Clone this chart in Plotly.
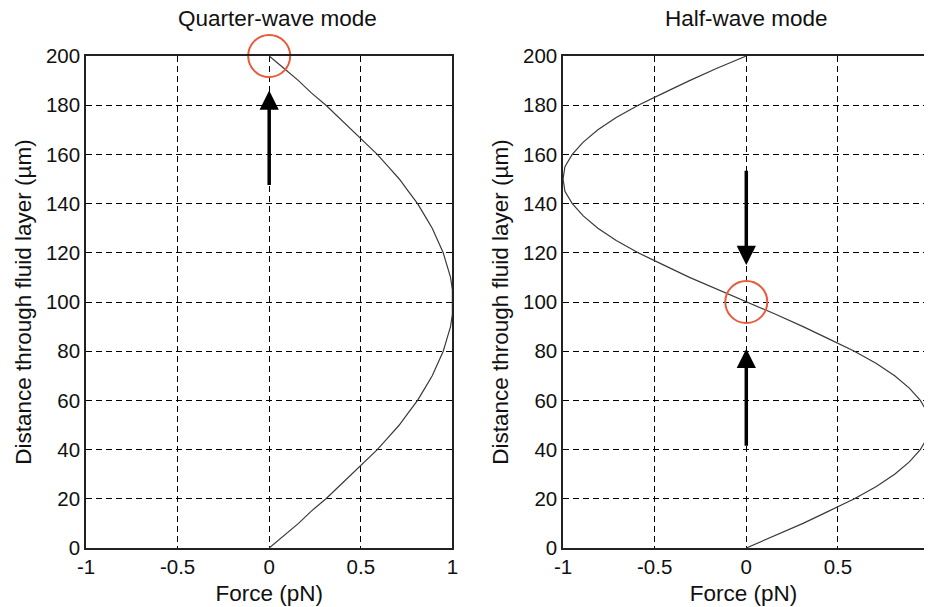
import plotly.graph_objects as go

# ---- data ----
distance_um = [0, 5, 10, 15, 20, 25, 30, 35, 40, 45, 50, 55, 60, 65, 70, 75, 80, 85, 90, 95, 100,
               105, 110, 115, 120, 125, 130, 135, 140, 145, 150, 155, 160, 165, 170, 175, 180,
               185, 190, 195, 200]
quarter_force = [0, 0.08, 0.16, 0.23, 0.31, 0.38, 0.45, 0.52, 0.59, 0.65, 0.71, 0.76, 0.81, 0.85,
                 0.89, 0.92, 0.95, 0.97, 0.99, 1.00, 1.00,
                 1.00, 0.99, 0.97, 0.95, 0.92, 0.89, 0.85, 0.81, 0.76, 0.71, 0.65, 0.59, 0.52,
                 0.45, 0.38, 0.31, 0.23, 0.16, 0.08, 0]
half_force = [0, 0.16, 0.31, 0.45, 0.59, 0.71, 0.81, 0.89, 0.95, 0.99, 1.00, 0.99, 0.95, 0.89,
              0.81, 0.71, 0.59, 0.45, 0.31, 0.16, 0,
              -0.16, -0.31, -0.45, -0.59, -0.71, -0.81, -0.89, -0.95, -0.99, -1.00, -0.99,
              -0.95, -0.89, -0.81, -0.71, -0.59, -0.45, -0.31, -0.16, 0]

titles = ["Quarter-wave mode", "Half-wave mode"]
x_title = "Force (pN)"
y_title = "Distance through fluid layer (\u00b5m)"
x_ticks = [-1, -0.5, 0, 0.5, 1]
x_tick_text = ["-1", "-0.5", "0", "0.5", "1"]
y_ticks = [0, 20, 40, 60, 80, 100, 120, 140, 160, 180, 200]

# equilibrium (node) positions marked by circles: (force, distance)
quarter_node = (0, 200)
half_node = (0, 100)
# arrows: (x, tail_y, tip_y)
quarter_arrows = [(0, 147, 186)]
half_arrows = [(0, 154, 115), (0, 41, 81)]

FONT = "Liberation Sans, Arial, Helvetica, sans-serif"
W, H = 930, 607
ML, MT, MB = 86, 56, 59
pw = W - ML

fig = go.Figure()

line_style = dict(color="#3a3a3a", width=1.2)
fig.add_trace(go.Scatter(x=quarter_force, y=distance_um, mode="lines", line=line_style,
                         xaxis="x", yaxis="y", showlegend=False))
fig.add_trace(go.Scatter(x=half_force, y=distance_um, mode="lines", line=line_style,
                         xaxis="x2", yaxis="y2", showlegend=False))

circle_marker = dict(symbol="circle-open", size=42, color="#e85a3a", line=dict(width=2, color="#e85a3a"))
fig.add_trace(go.Scatter(x=[quarter_node[0]], y=[quarter_node[1]], mode="markers",
                         marker=circle_marker, cliponaxis=False, xaxis="x", yaxis="y",
                         showlegend=False))
fig.add_trace(go.Scatter(x=[half_node[0]], y=[half_node[1]], mode="markers",
                         marker=circle_marker, cliponaxis=False, xaxis="x2", yaxis="y2",
                         showlegend=False))

axis_common = dict(
    showline=True, linecolor="#222222", linewidth=1.5,
    showgrid=True, gridcolor="#000000", gridwidth=1, griddash="6px,4px",
    zeroline=False, ticks="", tickfont=dict(family=FONT, size=20.5, color="#111111"),
    title_font=dict(family=FONT, size=22.5, color="#111111"),
)

fig.update_layout(
    width=W, height=H,
    margin=dict(l=ML, r=0, t=MT, b=MB),
    paper_bgcolor="white", plot_bgcolor="white",
    font=dict(family=FONT, color="#111111"),
    xaxis=dict(domain=[0, (455 - ML) / pw], range=[-1, 1], tickvals=x_ticks, ticktext=x_tick_text,
               mirror=True, anchor="y", title=dict(text=x_title, standoff=8), **axis_common),
    yaxis=dict(domain=[0, 1], range=[0, 200], tickvals=y_ticks, mirror=True, anchor="x",
               title=dict(text=y_title, standoff=8), **axis_common),
    xaxis2=dict(domain=[(566.5 - ML) / pw, 1], range=[-1, 0.97], tickvals=x_ticks, ticktext=x_tick_text,
                mirror=True, anchor="y2", title=dict(text=x_title, standoff=8), **axis_common),
    yaxis2=dict(domain=[0, 1], range=[0, 200], tickvals=y_ticks, mirror=False, anchor="x2",
                title=dict(text=y_title, standoff=8), **axis_common),
)

annotations = []
for i, (t, xs) in enumerate(zip(titles, [8, 0])):
    suffix = "" if i == 0 else "2"
    annotations.append(dict(text=t, xref="x" + suffix, yref="y" + suffix + " domain",
                            x=0, y=1, yshift=38, xshift=xs, showarrow=False,
                            xanchor="center", yanchor="middle",
                            font=dict(family=FONT, size=22.5, color="#111111")))

for arrows, suffix in [(quarter_arrows, ""), (half_arrows, "2")]:
    for (ax_x, tail, tip) in arrows:
        annotations.append(dict(x=ax_x, y=tip, ax=ax_x, ay=tail,
                                xref="x" + suffix, yref="y" + suffix,
                                axref="x" + suffix, ayref="y" + suffix,
                                text="", showarrow=True, arrowhead=2, arrowsize=1.1,
                                arrowwidth=3.5, arrowcolor="#000000", standoff=0))
fig.update_layout(annotations=annotations)

fig.write_html("out.html")
